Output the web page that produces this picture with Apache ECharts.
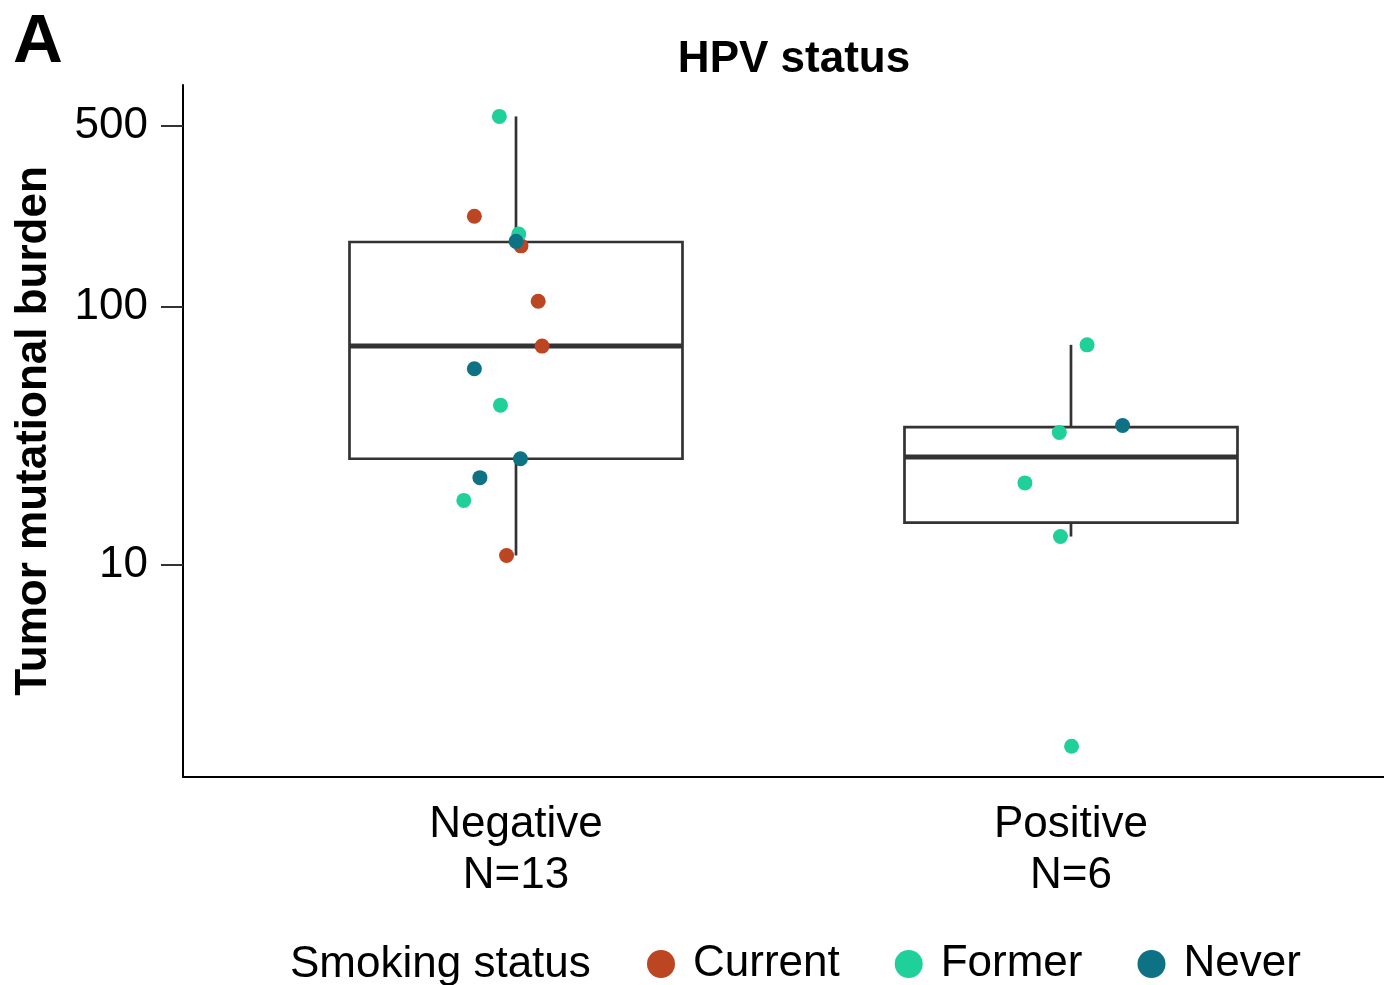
<!DOCTYPE html>
<html>
<head>
<meta charset="utf-8">
<script src="https://cdn.jsdelivr.net/npm/echarts@6/dist/echarts.min.js"></script>
<style>
html,body{margin:0;padding:0;background:#fff;}
#chart{width:1384px;height:985px;}
</style>
</head>
<body>
<div id="chart"></div>
<script>
// ---- data ----
const categories = ['Negative', 'Positive'];
const groupCounts = [13, 6];
const statusNames = ['Current', 'Former', 'Never'];
const statusColors = ['#BC4522', '#20D09A', '#0E7285'];
const yTickValues = [10, 100, 500];

// box stats per group: [min whisker, Q1, median, Q3, max whisker]
const boxNegative = [10.9, 25.8, 70.4, 178, 545];
const boxPositive = [12.9, 14.6, 26.2, 34.2, 71.2];

// points: [group index (1-based), horizontal jitter, value]
const currentPts = [
  [1, -0.075, 224], [1, 0.009, 172], [1, 0.040, 105], [1, 0.047, 70.4], [1, -0.017, 10.9]
];
const formerPts = [
  [1, -0.030, 545], [1, 0.005, 191], [1, -0.028, 41.6], [1, -0.094, 17.8],
  [2, 0.029, 71.2], [2, -0.021, 32.6], [2, -0.083, 20.8], [2, -0.019, 12.9], [2, 0.001, 1.99]
];
const neverPts = [
  [1, 0.000, 179], [1, -0.075, 57.5], [1, 0.008, 25.8], [1, -0.065, 21.8],
  [2, 0.093, 34.7]
];

// ---- build options ----
const L = Math.log10;
const boxes = [boxNegative, boxPositive];
const boxData = boxes.map((b, i) => [i + 1].concat(b.map(L)));
const toXY = pts => pts.map(p => [p[0] + p[1], L(p[2])]);
const pointSets = [currentPts, formerPts, neverPts];
const yTicksLog = yTickValues.map(L);
const FONT = 'Liberation Sans, Arial, Helvetica, sans-serif';

const chart = echarts.init(document.getElementById('chart'), null, {renderer: 'canvas'});

const series = [{
  type: 'custom',
  name: 'box',
  data: boxData,
  encode: {x: 0, y: [1, 2, 3, 4, 5]},
  z: 1,
  silent: true,
  renderItem: function (params, api) {
    const x = api.value(0);
    const mn = api.value(1), q1 = api.value(2), md = api.value(3), q3 = api.value(4), mx = api.value(5);
    const hw = 0.3;
    const tl = api.coord([x - hw, q3]);
    const br = api.coord([x + hw, q1]);
    const cTop = api.coord([x, mx]);
    const cQ3 = api.coord([x, q3]);
    const cQ1 = api.coord([x, q1]);
    const cMin = api.coord([x, mn]);
    const mL = api.coord([x - hw, md]);
    const mR = api.coord([x + hw, md]);
    const st = {stroke: '#333333', lineWidth: 2.7, fill: null};
    return {
      type: 'group',
      children: [
        {type: 'line', shape: {x1: cTop[0], y1: cTop[1], x2: cQ3[0], y2: cQ3[1]}, style: st},
        {type: 'line', shape: {x1: cQ1[0], y1: cQ1[1], x2: cMin[0], y2: cMin[1]}, style: st},
        {type: 'rect', shape: {x: tl[0], y: tl[1], width: br[0] - tl[0], height: br[1] - tl[1]},
          style: {stroke: '#333333', lineWidth: 2.7, fill: '#ffffff'}},
        {type: 'line', shape: {x1: mL[0], y1: mL[1], x2: mR[0], y2: mR[1]},
          style: {stroke: '#333333', lineWidth: 5}}
      ]
    };
  }
}];

statusNames.forEach((nm, i) => {
  series.push({
    type: 'scatter',
    name: nm,
    data: toXY(pointSets[i]),
    symbol: 'circle',
    symbolSize: 15,
    itemStyle: {color: statusColors[i], opacity: 1},
    z: 3 + i
  });
});

const option = {
  animation: false,
  backgroundColor: '#ffffff',
  textStyle: {fontFamily: FONT},
  title: {
    text: 'HPV status',
    left: 789,
    top: 33,
    textAlign: 'center',
    textStyle: {fontFamily: FONT, fontSize: 44, fontWeight: 'bold', color: '#000'}
  },
  graphic: [
    {type: 'text', left: 13, top: 8,
      style: {text: 'A', font: 'bold 69px ' + FONT, fill: '#000'}},
    {type: 'text', left: 290, top: 943,
      style: {text: 'Smoking status', font: '44px ' + FONT, fill: '#000'}}
  ],
  legend: {
    data: statusNames,
    left: 642,
    top: 937,
    itemWidth: 28,
    itemHeight: 28,
    itemGap: 55,
    icon: 'circle',
    textStyle: {fontFamily: FONT, fontSize: 44, color: '#000', padding: [0, 0, 0, 13]},
    selectedMode: false
  },
  grid: {left: 183, top: 85, right: 0, bottom: 208, containLabel: false, outerBoundsMode: 'none'},
  xAxis: {
    type: 'value',
    min: 0.4,
    max: 2.564,
    splitLine: {show: false},
    axisLine: {show: true, onZero: false, lineStyle: {color: '#000', width: 2}},
    axisTick: {show: false},
    axisLabel: {
      customValues: [1, 2],
      formatter: v => categories[Math.round(v) - 1] + '\nN=' + groupCounts[Math.round(v) - 1],
      fontFamily: FONT, fontSize: 44, lineHeight: 51, color: '#000', margin: 22
    }
  },
  yAxis: {
    type: 'value',
    min: 0.18,
    max: 2.858,
    name: 'Tumor mutational burden',
    nameLocation: 'middle',
    nameRotate: 90,
    nameGap: 127,
    nameTextStyle: {fontFamily: FONT, fontSize: 44, fontWeight: 'bold', color: '#000'},
    splitLine: {show: false},
    axisLine: {show: true, onZero: false, lineStyle: {color: '#000', width: 2}},
    axisTick: {show: true, customValues: yTicksLog, length: 22, lineStyle: {color: '#333', width: 2}},
    axisLabel: {
      customValues: yTicksLog,
      formatter: v => String(Math.round(Math.pow(10, v))),
      fontFamily: FONT, fontSize: 44, color: '#000', margin: 35
    }
  },
  series: series
};
chart.setOption(option);
</script>
</body>
</html>
